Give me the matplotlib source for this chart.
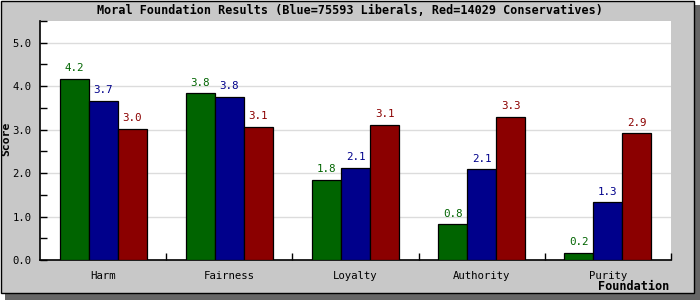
import numpy as np
import matplotlib.pyplot as plt
from matplotlib.patches import Rectangle
from matplotlib.ticker import MultipleLocator, FixedLocator

foundations = ['Harm', 'Fairness', 'Loyalty', 'Authority', 'Purity']
green_vals = [4.17, 3.84, 1.84, 0.82, 0.16]
blue_vals = [3.67, 3.76, 2.12, 2.09, 1.33]
red_vals = [3.02, 3.06, 3.11, 3.29, 2.92]

series = [(green_vals, '#006400'), (blue_vals, '#00008B'), (red_vals, '#8B0000')]

plt.rcParams['font.family'] = ['DejaVu Sans Mono']

W, H = 700, 300
fig = plt.figure(figsize=(7, 3), dpi=100)
fig.patch.set_facecolor('white')

# drop shadow and gray panel
fig.patches.append(Rectangle((5 / W, 0), 695 / W, 295 / H, transform=fig.transFigure,
                             facecolor='#666666', edgecolor='none', zorder=-2))
fig.patches.append(Rectangle((0.5 / W, 7 / H), 693 / W, 292.5 / H, transform=fig.transFigure,
                             facecolor='#C8C8C8', edgecolor='black', linewidth=1.0, zorder=-1))

ax = fig.add_axes([40 / W, 40 / H, 631 / W, 239 / H])
ax.set_facecolor('white')

x = np.arange(len(foundations))
bw = 0.23
for k, (vals, col) in enumerate(series):
    xs = x + (k - 1) * bw
    ax.bar(xs, vals, width=bw, color=col, edgecolor='black', linewidth=0.9, zorder=3)
    for xi, v in zip(xs, vals):
        ax.annotate(f'{v:.1f}', (xi, v), xytext=(0, 4), textcoords='offset points',
                    ha='center', va='bottom', color=col, fontsize=7.8)

ax.set_xlim(-0.5, 4.5)
ax.set_ylim(0, 5.5)

ax.yaxis.set_major_locator(MultipleLocator(1.0))
ax.yaxis.set_minor_locator(MultipleLocator(0.5))
ax.yaxis.set_major_formatter(plt.FormatStrFormatter('%.1f'))
ax.tick_params(axis='y', which='both', direction='in', length=5, width=1, pad=6,
               labelsize=7.6)
ax.grid(axis='y', which='major', color='#DCDCDC', linewidth=1, zorder=0)

ax.set_xticks(x)
ax.set_xticklabels(foundations)
ax.xaxis.set_minor_locator(FixedLocator([0.5, 1.5, 2.5, 3.5, 4.5]))
ax.tick_params(axis='x', which='major', length=0, pad=8, labelsize=7.7)
ax.tick_params(axis='x', which='minor', direction='in', length=5, width=1)

for s in ['top', 'right']:
    ax.spines[s].set_visible(False)
for s in ['left', 'bottom']:
    ax.spines[s].set_linewidth(1.2)

fig.text(350 / W, 1 - 11 / H,
         'Moral Foundation Results (Blue=75593 Liberals, Red=14029 Conservatives)',
         ha='center', va='center', fontsize=8.5, fontweight='bold')
fig.text(669 / W, 1 - 287 / H, 'Foundation', ha='right', va='center',
         fontsize=8.6, fontweight='bold')
fig.text(6.5 / W, 1 - 139 / H, 'Score', ha='center', va='center', rotation=90,
         fontsize=8.2, fontweight='bold')

fig.savefig('out.png', dpi=100)
